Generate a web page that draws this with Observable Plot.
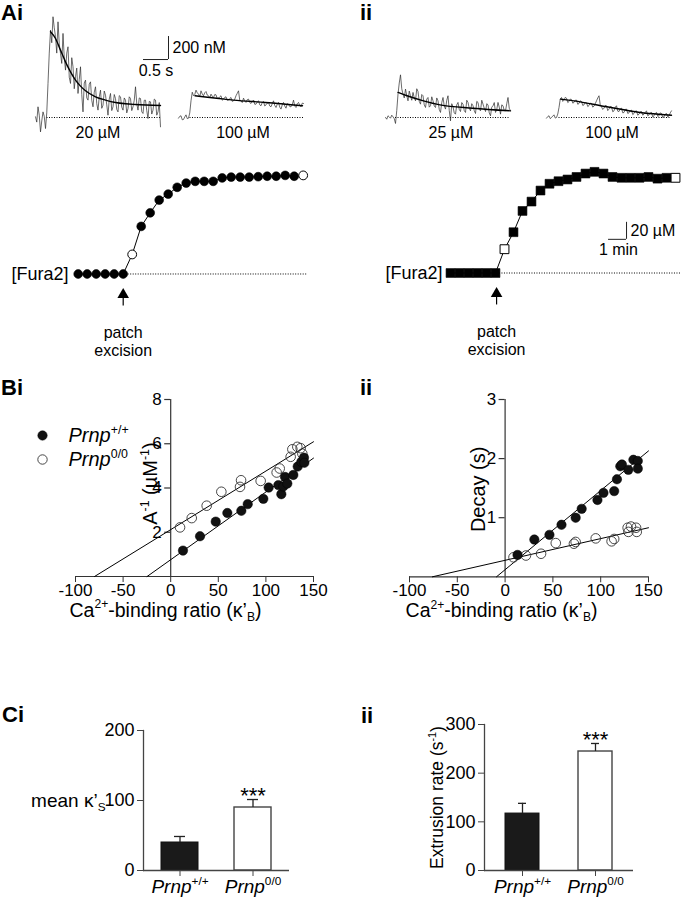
<!DOCTYPE html>
<html><head><meta charset="utf-8">
<script src="https://cdn.jsdelivr.net/npm/d3@7"></script>
<script src="https://cdn.jsdelivr.net/npm/@observablehq/plot@0.6"></script>
<style>
body{margin:0;background:#fff;}
#fig{position:relative;width:681px;height:900px;overflow:hidden;font-family:"Liberation Sans",Arial,Helvetica,sans-serif;}
.panel{position:absolute;font-weight:bold;font-size:22px;line-height:1;}
</style></head><body><div id="fig"></div><script>
// ---------- DATA ----------
// A: Ca2+ transients (time s, [Ca2+] nM above baseline)
const traceTime = [0,0.025,0.05,0.075,0.1,0.125,0.15,0.175,0.2,0.225,
0.25,0.275,0.3,0.325,0.35,0.375,0.4,0.425,0.45,0.475,
0.5,0.525,0.55,0.575,0.6,0.625,0.65,0.675,0.7,0.725,
0.75,0.775,0.8,0.825,0.85,0.875,0.9,0.925,0.95,0.975,
1,1.025,1.05,1.075,1.1,1.125,1.15,1.175,1.2,1.225,
1.25,1.275,1.3,1.325,1.35,1.375,1.4,1.425,1.45,1.475,
1.5,1.525,1.55,1.575,1.6,1.625,1.65,1.675,1.7,1.725,
1.75,1.775,1.8,1.825,1.85,1.875,1.9,1.925,1.95,1.975,
2,2.025,2.05,2.075,2.1,2.125,2.15,2.175,2.2,2.225,
2.25,2.275,2.3,2.325,2.35,2.375,2.4,2.425,2.45,2.475,2.5];
const ai20 = [6,-40,93,20,-125,-30,49,10,-96,40,
296,560,760,650,876,780,702,560,832,640,
557,470,731,520,412,560,615,350,296,520,
441,250,354,430,209,330,441,200,49,300,
325,170,151,290,310,150,93,220,267,120,
64,180,238,80,107,230,194,110,20,160,
209,60,93,200,165,70,49,190,180,90,
64,170,151,40,78,180,165,60,93,150,
267,120,64,170,165,50,35,150,151,60,
-9,140,136,30,64,160,151,20,49,130,-81];
const ai100 = [-6,10,15,-20,-17,5,23,-10,-6,40,
145,220,189,200,238,215,203,180,232,205,
189,215,226,195,189,170,203,185,174,200,
197,165,168,180,189,150,160,175,180,150,
151,165,174,140,145,160,189,210,232,150,
145,130,168,145,131,155,160,130,122,140,
151,115,116,135,145,110,102,130,139,100,
110,125,131,100,93,120,145,105,87,115,
131,90,73,110,131,100,81,120,116,95,
93,110,151,100,87,120,131,105,93,125,122];
const aii25 = [0,-15,15,5,-6,20,6,-10,-52,60,
203,300,371,250,203,170,247,190,145,230,
189,150,218,170,145,250,226,140,116,200,
189,110,87,160,174,90,102,180,145,100,
87,170,145,70,44,130,174,100,73,150,
189,60,-29,120,93,40,29,110,131,70,
52,130,116,60,44,150,131,80,58,120,
102,60,35,140,131,70,58,150,116,80,
52,120,110,40,15,90,102,130,44,70,
131,90,29,110,102,60,58,120,174,80,58];
const aii100 = [-6,8,15,-10,0,12,23,-5,0,30,
87,160,174,140,151,175,168,130,139,160,
157,125,131,150,151,115,122,145,139,105,
110,130,128,95,104,125,122,90,99,120,
145,170,189,110,93,70,81,105,102,60,
73,95,93,50,58,90,102,55,52,75,
81,40,44,70,73,35,41,60,64,25,
35,55,58,20,29,50,52,20,29,45,
58,15,23,40,44,5,15,35,44,10,
15,40,35,0,6,30,35,5,15,40,58];
const ai20FitT = [0.3,0.4,0.5,0.6,0.7,0.8,0.9,1.0,1.2,1.4,1.6,1.8,2.0,2.5];
const ai20FitV = [745,687,586,484,397,325,273,232,180,151,130,119,113,104];
const ai100FitT = [0.33,0.76,1.1,1.74,2.48];
const ai100FitV = [189,168,151,131,102];
const aii25FitT = [0.25,0.43,0.76,1.09,1.75,2.5];
const aii25FitV = [218,189,145,110,81,58];
const aii100FitT = [0.28,0.55,1.21,1.87,2.5];
const aii100FitV = [160,145,93,44,20];
const traceLabels = ["20 µM","100 µM","25 µM","100 µM"];
const traceScaleT = [2.16, 2.66];     // 0.5 s
const traceScaleNM = [504, 704];      // 200 nM
// A: Fura-2 loading (min, µM above baseline)
const loadTime = [0,0.5,1,1.5,2,2.5,3,3.5,4,4.5,5,5.5,6,6.5,7,7.5,8,8.5,9,9.5,10,10.5,11,11.5,12,12.5];
const loadLeft = [0,0,0,0,0,0,23,56,72,87,94,102,107,109,109,109,113,114,114,114,114.5,115,115,116,115,116];
const loadRight = [0,0,0,0,0,0,28,48,73,84,97,105,108,110,113,117,119,117,113,112,112,112,113,111,112,112];
const loadOpenIdx = [6,25];
const loadScaleT = [8.78, 9.78];      // 1 min
const loadScaleUM = [39.6, 59.6];     // 20 µM
// B: kappa'B vs A^-1 and decay
const biWtX = [12.9,30.8,47.3,59.5,74.2,80.9,97.3,102.9,113.1,116.2,118.3,120.1,122.5,128.8,133.4,137.2,140,140.4];
const biWtY = [1.17,1.82,2.48,2.87,2.97,3.27,3.51,4.02,4.13,3.72,4.07,4.50,4.20,4.59,4.97,5.18,5.37,5.14];
const biKoX = [9.8,22.1,37.8,53.2,72.8,73.9,94.5,111.3,114.5,126,127.8,133,136.5,138.3];
const biKoY = [2.22,2.64,3.20,3.83,4.05,4.35,4.32,4.70,4.88,5.41,5.75,5.86,5.80,5.55];
const biFitWtX = [-24.8,150], biFitWtY = [0,5.35];
const biFitKoX = [-80,150],   biFitKoY = [0,6.09];
const biiWtX = [13,30.6,46.4,59,73.8,80.1,96.6,102.9,114.1,117,120.5,122.2,128.9,134.2,138.8,138.8];
const biiWtY = [0.37,0.63,0.71,0.88,1.0,1.15,1.30,1.42,1.45,1.65,1.87,1.90,1.81,1.98,1.96,1.83];
const biiKoX = [8.8,21.8,37.6,53,72,73.8,94.8,111.4,114.1,128.2,131.7,129,137.7,137];
const biiKoY = [0.33,0.36,0.39,0.57,0.56,0.59,0.65,0.60,0.64,0.83,0.85,0.76,0.76,0.83];
const biiFitWtX = [-9,150], biiFitWtY = [0,2.13];
const biiFitKoX = [-76,150], biiFitKoY = [0,0.83];
const bXTicks = [-100,-50,0,50,100,150];
const biYTicks = [2,4,6,8];
const biiYTicks = [1,2,3];
const legendKeys = ["wt","ko"];
const legendLabels = ["%{Prnp}^{+/+}","%{Prnp}^{0/0}"];
// C: bars
const barGroups = ["Prnp+/+","Prnp0/0"];
const barTickLabels = ["%{Prnp}^{+/+}","%{Prnp}^{0/0}"];
const ciMean = [40,90], ciSem = [8.6,11.4];
const ciiMean = [117,244.5], ciiSem = [21,16.5];
const ciYTicks = [0,100,200];
const ciiYTicks = [0,100,200,300];

// ---------- HELPERS ----------
const FONT = '"Liberation Sans", Arial, Helvetica, sans-serif';
const fig = document.getElementById("fig");
function baseStyle(fs){return {fontFamily:FONT,fontSize:fs+"px",background:"none",overflow:"visible",color:"#000"};}
function put(el,left,top){el.style.position="absolute";el.style.left=left+"px";el.style.top=top+"px";fig.appendChild(el);return el;}
function letter(txt,left,top){const d=document.createElement("div");d.className="panel";d.textContent=txt;put(d,left,top);}

function tracePlot(values,fitT,fitV,dotFrom,label,labelDx,mr,extra){
  const pts=traceTime.map((t,i)=>({t,v:values[i]}));
  const fit=fitT.map((t,i)=>({t,v:fitV[i]}));
  return Plot.plot({
    width:6+125+mr,height:140,marginLeft:6,marginRight:mr,marginTop:0,marginBottom:2,
    x:{domain:[0,2.5],axis:null},y:{domain:[-200,1000],axis:null},
    style:baseStyle(16),
    marks:[
      Plot.ruleY([0],{x1:dotFrom,x2:2.5,stroke:"#000",strokeWidth:1,strokeDasharray:"1,1.5"}),
      Plot.line(pts,{x:"t",y:"v",stroke:"#2b2b2b",strokeWidth:0.7}),
      Plot.line(fit,{x:"t",y:"v",stroke:"#000",strokeWidth:1.4,curve:"monotone-x"}),
      Plot.text([label],{frameAnchor:"bottom",dy:-3,dx:labelDx,text:d=>d,fontSize:16}),
      ...(extra||[])
    ]
  });
}

function loadPlot(values,ml,symbol,r,dotFrom,dotTo,arrowT,fuDx,extra){
  const pts=loadTime.map((t,i)=>({t,v:values[i],open:loadOpenIdx.includes(i)}));
  return Plot.plot({
    width:ml+225+14,height:195.5,marginLeft:ml,marginRight:14,marginTop:0,marginBottom:0,
    x:{domain:[0,12.5],axis:null},y:{domain:[-100,130],axis:null},
    style:baseStyle(16),
    marks:[
      Plot.ruleY([0],{x1:dotFrom,x2:dotTo,stroke:"#000",strokeWidth:1,strokeDasharray:"1,1.5"}),
      Plot.line(pts,{x:"t",y:"v",stroke:"#000",strokeWidth:1}),
      Plot.dot(pts,{x:"t",y:"v",filter:d=>!d.open,symbol,r,fill:"#000",stroke:"#000",strokeWidth:0.6}),
      Plot.dot(pts,{x:"t",y:"v",filter:d=>d.open,symbol,r,fill:"#fff",stroke:"#000",strokeWidth:1}),
      Plot.ruleX([arrowT],{y1:-37.6,y2:-24,stroke:"#000",strokeWidth:1.2}),
      Plot.dot([arrowT],{x:d=>d,y:()=>-24.3,symbol:"triangle",r:4.3,fill:"#000",stroke:"none"}),
      Plot.text([arrowT],{x:d=>d,y:()=>-79.4,text:()=>"patch\nexcision",lineHeight:1.07,fontSize:16}),
      Plot.text([0],{y:d=>d,frameAnchor:"left",textAnchor:"end",dx:fuDx,text:()=>"[Fura2]",fontSize:18}),
      ...(extra||[])
    ]
  });
}

function scatterPlot(c){
  const wt=c.wtX.map((x,i)=>({x,y:c.wtY[i]}));
  const ko=c.koX.map((x,i)=>({x,y:c.koY[i]}));
  const fw=c.fwX.map((x,i)=>({x,y:c.fwY[i]}));
  const fk=c.fkX.map((x,i)=>({x,y:c.fkY[i]}));
  return Plot.plot({
    width:75+c.fw+20,height:c.mt+c.fh+52,marginLeft:75,marginRight:20,marginTop:c.mt,marginBottom:52,
    x:{domain:[-100,150]},y:{domain:[0,c.ymax],axis:null},
    style:baseStyle(17),
    marks:[
      Plot.axisX({ticks:bXTicks,tickSize:6,tickPadding:1,tickFormat:d=>String(d),label:null,fontSize:17,stroke:"#333"}),
      Plot.ruleY([0],{stroke:"#333",strokeWidth:1.2}),
      Plot.ruleX([0],{y1:0,y2:c.ymax,stroke:"#333",strokeWidth:1.2}),
      Plot.ruleY(c.yTicks,{x1:-6.3,x2:0,stroke:"#333",strokeWidth:1.2}),
      Plot.text(c.yTicks,{x:()=>0,y:d=>d,dx:-9,textAnchor:"end",text:d=>String(d),fontSize:17}),
      Plot.line(fk,{x:"x",y:"y",stroke:"#000",strokeWidth:1}),
      Plot.line(fw,{x:"x",y:"y",stroke:"#000",strokeWidth:1}),
      Plot.dot(ko,{x:"x",y:"y",r:4.8,fill:"none",stroke:"#333",strokeWidth:0.9}),
      Plot.dot(wt,{x:"x",y:"y",r:4.7,fill:"#111",stroke:"#000",strokeWidth:0.5}),
      Plot.text([c.yLabel],{x:()=>0,y:()=>c.yLabelAt,dx:c.yLabelDx,rotate:-90,textAnchor:"middle",text:d=>d,fontSize:20}),
      Plot.text(["Ca^{2+}-binding ratio (κ’_{B})"],{frameAnchor:"bottom",textAnchor:"middle",dy:40,dx:c.xLabelDx,text:d=>d,fontSize:19.5})
    ]
  });
}

function barPlot(c){
  const data=barGroups.map((g,i)=>({g,m:c.means[i],s:c.sems[i]}));
  return Plot.plot({
    width:c.ml+c.fw+20,height:c.mt+c.fh+32,marginLeft:c.ml,marginRight:20,marginTop:c.mt,marginBottom:32,
    x:{type:"band",domain:barGroups,paddingInner:c.pi,paddingOuter:c.po,align:0.5},
    y:{domain:[0,c.ymax]},
    style:baseStyle(18),
    marks:[
      Plot.barY(data,{filter:d=>d.g===barGroups[0],x:"g",y:"m",fill:"#1a1a1a",stroke:"#111",strokeWidth:1}),
      Plot.barY(data,{filter:d=>d.g===barGroups[1],x:"g",y:"m",fill:"#fff",stroke:"#444",strokeWidth:1.4}),
      Plot.ruleX(data,{x:"g",y1:"m",y2:d=>d.m+d.s,stroke:"#222",strokeWidth:1.3}),
      Plot.tickY(data,{x:"g",y:d=>d.m+d.s,insetLeft:13,insetRight:13,stroke:"#222",strokeWidth:1.3}),
      Plot.text(data,{filter:d=>d.g===barGroups[1],x:"g",y:d=>d.m+d.s,text:()=>"***",dy:-4,fontSize:22}),
      Plot.frame({anchor:"left",stroke:"#444",strokeWidth:1.3}),
      Plot.ruleY([0],{stroke:"#444",strokeWidth:1.3}),
      Plot.axisY({ticks:c.yTicks,tickSize:6,tickPadding:3,tickFormat:d=>String(d),label:null,fontSize:18,stroke:"#444"}),
      Plot.axisX({tickSize:6,tickPadding:3,tickFormat:d=>barTickLabels[barGroups.indexOf(d)],label:null,fontSize:19,stroke:"#444"}),
      ...c.extra
    ]
  });
}

function rich(root){
  root.querySelectorAll("text").forEach(t=>{
    if(t.querySelector("tspan"))return;
    const s=t.textContent;
    if(!/[\^_%]\{/.test(s))return;
    const fs=parseFloat(getComputedStyle(t).fontSize)||16;
    t.textContent="";
    let shift=0,m;
    const re=/\^\{([^}]*)\}|_\{([^}]*)\}|%\{([^}]*)\}|([^\^_%]+)/g;
    while((m=re.exec(s))){
      const ts=document.createElementNS("http://www.w3.org/2000/svg","tspan");
      let target=0,txt,small=false,italic=false;
      if(m[1]!==undefined){target=-0.42*fs;txt=m[1];small=true;}
      else if(m[2]!==undefined){target=0.22*fs;txt=m[2];small=true;}
      else if(m[3]!==undefined){txt=m[3];italic=true;}
      else txt=m[4];
      if(target!==shift){ts.setAttribute("dy",(target-shift).toFixed(2));shift=target;}
      if(small)ts.setAttribute("font-size",(0.62*fs).toFixed(1)+"px");
      if(italic)ts.setAttribute("font-style","italic");
      ts.textContent=txt;
      t.appendChild(ts);
    }
  });
}

// ---------- PANEL A ----------
const aiScale=[
  Plot.ruleX([traceScaleT[1]],{y1:traceScaleNM[0],y2:traceScaleNM[1],stroke:"#222",strokeWidth:1}),
  Plot.ruleY([traceScaleNM[0]],{x1:traceScaleT[0],x2:traceScaleT[1],stroke:"#222",strokeWidth:1}),
  Plot.text(["200 nM"],{x:()=>2.74,y:()=>604,textAnchor:"start",text:d=>d,fontSize:16}),
  Plot.text(["0.5 s"],{x:()=>2.41,y:()=>409,text:d=>d,fontSize:16})
];
put(tracePlot(ai20,ai20FitT,ai20FitV,0.23,traceLabels[0],0,80,aiScale),35-6,2);
put(tracePlot(ai100,ai100FitT,ai100FitV,0.23,traceLabels[1],2,6),178.3-6,2);
put(tracePlot(aii25,aii25FitT,aii25FitV,0.2,traceLabels[2],3,6),385-6,2);
put(tracePlot(aii100,aii100FitT,aii100FitV,0.25,traceLabels[3],3,6),545.7-6,2);

put(loadPlot(loadLeft,77.7,"circle",4.4,2.5,12.75,2.5,-9.7),0,162.5);
const loadScale=[
  Plot.ruleX([loadScaleT[1]],{y1:loadScaleUM[0],y2:loadScaleUM[1],stroke:"#222",strokeWidth:1}),
  Plot.ruleY([loadScaleUM[0]],{x1:loadScaleT[0],x2:loadScaleT[1],stroke:"#222",strokeWidth:1}),
  Plot.text(["20 µM"],{x:()=>10.0,y:()=>49,textAnchor:"start",text:d=>d,fontSize:16}),
  Plot.text(["1 min"],{x:()=>9.33,y:()=>26.7,text:d=>d,fontSize:16})
];
put(loadPlot(loadRight,80,"square",5.0,2.72,12.8,2.56,-8,loadScale),370,162.2);

// ---------- PANEL B ----------
put(scatterPlot({wtX:biWtX,wtY:biWtY,koX:biKoX,koY:biKoY,fwX:biFitWtX,fwY:biFitWtY,fkX:biFitKoX,fkY:biFitKoY,
  fw:238,fh:177,mt:14,ymax:8,yTicks:biYTicks,yLabel:"A^{-1} (µM^{-1})",yLabelAt:4.2,yLabelDx:-20,xLabelDx:-29}),0,385);
put(scatterPlot({wtX:biiWtX,wtY:biiWtY,koX:biiKoX,koY:biiKoY,fwX:biiFitWtX,fwY:biiFitWtY,fkX:biiFitKoX,fkY:biiFitKoY,
  fw:239,fh:177.3,mt:14,ymax:3,yTicks:biiYTicks,yLabel:"Decay (s)",yLabelAt:1.48,yLabelDx:-27,xLabelDx:-27.5}),334,385);
put(Plot.plot({
  width:130,height:48,margin:0,
  y:{type:"band",domain:legendKeys,padding:0,axis:null},
  style:baseStyle(20),
  marks:[
    Plot.dot([legendKeys[0]],{y:d=>d,frameAnchor:"left",dx:12,r:4.7,fill:"#111",stroke:"#000",strokeWidth:0.5}),
    Plot.dot([legendKeys[1]],{y:d=>d,frameAnchor:"left",dx:12,r:4.7,fill:"none",stroke:"#333",strokeWidth:0.9}),
    Plot.text(legendKeys,{y:d=>d,frameAnchor:"left",dx:38,textAnchor:"start",text:(d,i)=>legendLabels[i],fontSize:20})
  ]
}),30,423);

// ---------- PANEL C ----------
put(barPlot({means:ciMean,sems:ciSem,ml:143,fw:146,mt:30,fh:140,ymax:200,yTicks:ciYTicks,pi:0.5,po:0.25,
  extra:[Plot.text(["mean κ’_{S}"],{y:()=>100,frameAnchor:"left",textAnchor:"end",dx:-38,text:d=>d,fontSize:19})]}),0,700);
put(barPlot({means:ciiMean,sems:ciiSem,ml:144,fw:149,mt:24,fh:146,ymax:300,yTicks:ciiYTicks,pi:0.534,po:0.2875,
  extra:[Plot.text(["Extrusion rate (s^{-1})"],{y:()=>150,frameAnchor:"left",textAnchor:"middle",rotate:-90,dx:-47,text:d=>d,fontSize:17.5})]}),340,700);

// panel letters
letter("Ai",1,2); letter("ii",360,2);
letter("Bi",1,377); letter("ii",360,377);
letter("Ci",2,704); letter("ii",361,705);

rich(fig);
</script></body></html>
